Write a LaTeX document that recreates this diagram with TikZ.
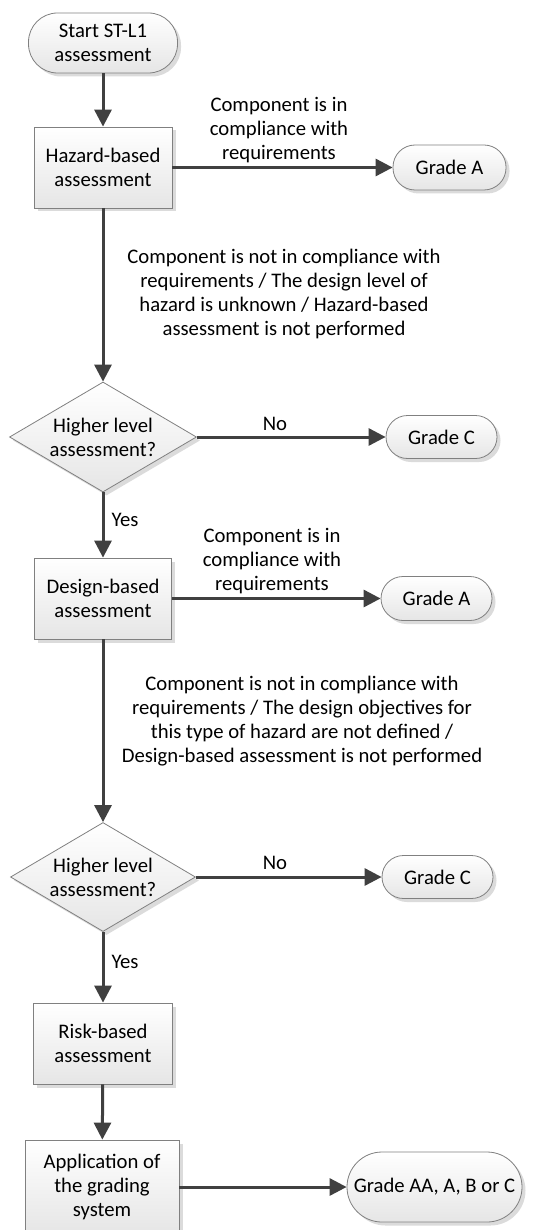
\documentclass[tikz,border=0pt]{standalone}
\usepackage{fontspec}
\setmainfont{Carlito}
\usetikzlibrary{shapes.geometric,arrows.meta,shadows}
\definecolor{lineC}{HTML}{404040}
\definecolor{borderC}{HTML}{808080}
\begin{document}
\begin{tikzpicture}[x=1pt,y=-1pt,
  every node/.style={font=\fontsize{20.7}{24}\selectfont, text=black},
  shapebase/.style={draw=borderC, line width=0.8pt, top color=white, bottom color=black!10,
    drop shadow={shadow xshift=3.5pt, shadow yshift=-3.5pt, fill=black!14, opacity=1},
    align=center, inner sep=0pt},
  procbox/.style={shapebase, rectangle},
  term/.style={shapebase, rectangle},
  decide/.style={shapebase, diamond, aspect=1.7, inner sep=-3pt},
  lab/.style={align=center, inner sep=0pt},
  conn/.style={draw=lineC, line width=3pt, -{Triangle[width=17pt,length=17pt]}}
]
\fill[white] (0,0) rectangle (533,1230);
\useasboundingbox (0,0) rectangle (533,1230);

% nodes
\node[term, rounded corners=29pt, minimum width=149pt, minimum height=60pt] (start) at (103,43) {Start ST-L1\\assessment};
\node[procbox, minimum width=138pt, minimum height=81pt] (hazard) at (103,167.5) {Hazard-based\\assessment};
\node[term, rounded corners=22pt, minimum width=113pt, minimum height=45pt] (gradeA1) at (449.5,167.5) {Grade A};
\node[decide, minimum width=187pt, minimum height=110pt] (d1) at (103,437) {Higher level\\assessment?};
\node[term, rounded corners=21.5pt, minimum width=111pt, minimum height=43pt] (gradeC1) at (441.5,437) {Grade C};
\node[procbox, minimum width=137pt, minimum height=81pt] (design) at (103,598.5) {Design-based\\assessment};
\node[term, rounded corners=22pt, minimum width=111pt, minimum height=44pt] (gradeA2) at (436.5,598.5) {Grade A};
\node[decide, minimum width=185pt, minimum height=109pt] (d2) at (103,877) {Higher level\\assessment?};
\node[term, rounded corners=21.5pt, minimum width=111pt, minimum height=43pt] (gradeC2) at (437.5,877) {Grade C};
\node[procbox, minimum width=139pt, minimum height=81pt] (risk) at (103,1043.5) {Risk-based\\assessment};
\node[procbox, minimum width=154pt, minimum height=94pt] (app) at (102,1187) {Application of\\the grading\\system};
\node[term, rounded corners=35pt, minimum width=175pt, minimum height=70pt] (gradeAA) at (434.5,1187) {Grade AA, A, B or C};

% labels
\node[lab] (lab1) at (279,130) {Component is in\\compliance with\\requirements};
\node[lab] (lab2) at (284,293.5) {Component is not in compliance with\\requirements / The design level of\\hazard is unknown / Hazard-based\\assessment is not performed};
\node[lab] (no1) at (275,424) {No};
\node[lab] (yes1) at (125,520) {Yes};
\node[lab] (lab3) at (272,561) {Component is in\\compliance with\\requirements};
\node[lab] (lab4) at (302,721.5) {Component is not in compliance with\\requirements / The design objectives for\\this type of hazard are not defined /\\Design-based assessment is not performed};
\node[lab] (no2) at (275,863) {No};
\node[lab] (yes2) at (125,962) {Yes};

% connectors
\draw[conn] (start) -- (hazard);
\draw[conn] (hazard) -- (gradeA1);
\draw[conn] (hazard) -- (d1);
\draw[conn] (d1) -- (gradeC1);
\draw[conn] (d1) -- (design);
\draw[conn] (design) -- (gradeA2);
\draw[conn] (design) -- (d2);
\draw[conn] (d2) -- (gradeC2);
\draw[conn] (d2) -- (risk);
\draw[conn] (risk) -- (app);
\draw[conn] (app) -- (gradeAA);
\end{tikzpicture}
\end{document}
